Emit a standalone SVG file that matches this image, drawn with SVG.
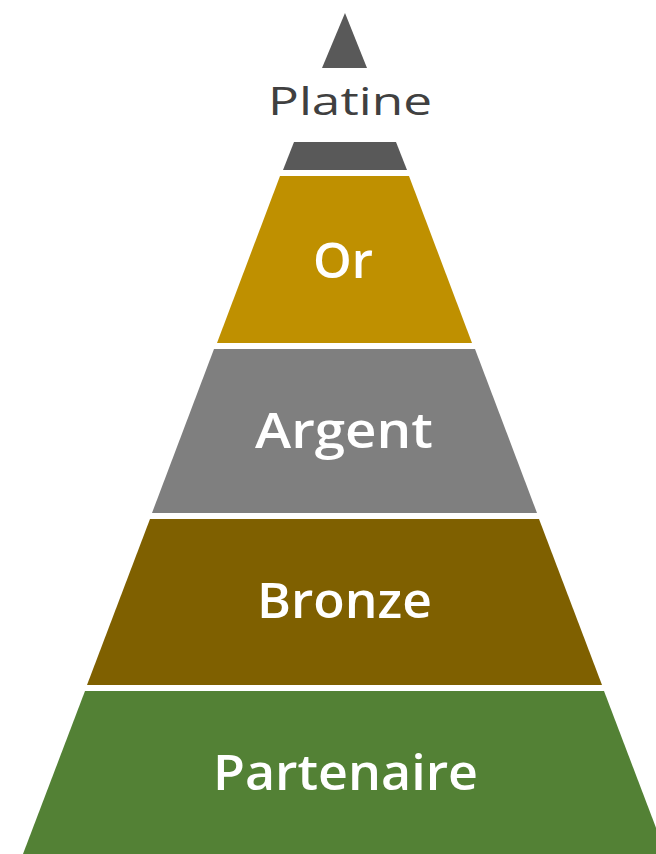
<svg xmlns="http://www.w3.org/2000/svg" width="656" height="854" viewBox="0 0 656 854">
  <style>
    .lbl { font-family: "Open Sans", "Liberation Sans", sans-serif; font-weight: 600; font-size: 49px; fill: #ffffff; text-anchor: middle; }
    .top { font-family: "Open Sans", "Liberation Sans", sans-serif; font-weight: 400; font-size: 39px; fill: #404040; text-anchor: middle; }
  </style>
  <rect width="656" height="854" fill="#ffffff"/>
  <g id="platine">
    <polygon points="345,13 322,68 367,68" fill="#595959"/>
    <text class="top" x="350" y="115" textLength="164" lengthAdjust="spacingAndGlyphs">Platine</text>
    <polygon points="294,142 396,142 407,170 283,170" fill="#595959"/>
  </g>
  <g id="or">
    <polygon points="280,176 409,176 472,343 217,343" fill="#BF9000"/>
    <text class="lbl" x="343" y="278" textLength="60" lengthAdjust="spacingAndGlyphs">Or</text>
  </g>
  <g id="argent">
    <polygon points="214,349 475,349 537,513 152,513" fill="#7F7F7F"/>
    <text class="lbl" x="344" y="448" textLength="178" lengthAdjust="spacingAndGlyphs">Argent</text>
  </g>
  <g id="bronze">
    <polygon points="150,519 539,519 602,685 87,685" fill="#7F6000"/>
    <text class="lbl" x="344.5" y="618" textLength="175" lengthAdjust="spacingAndGlyphs">Bronze</text>
  </g>
  <g id="partenaire">
    <polygon points="85,691 604,691 666,854 23,854" fill="#538135"/>
    <text class="lbl" x="345.5" y="790" textLength="265" lengthAdjust="spacingAndGlyphs">Partenaire</text>
  </g>
  <g id="connectors"></g>
</svg>
